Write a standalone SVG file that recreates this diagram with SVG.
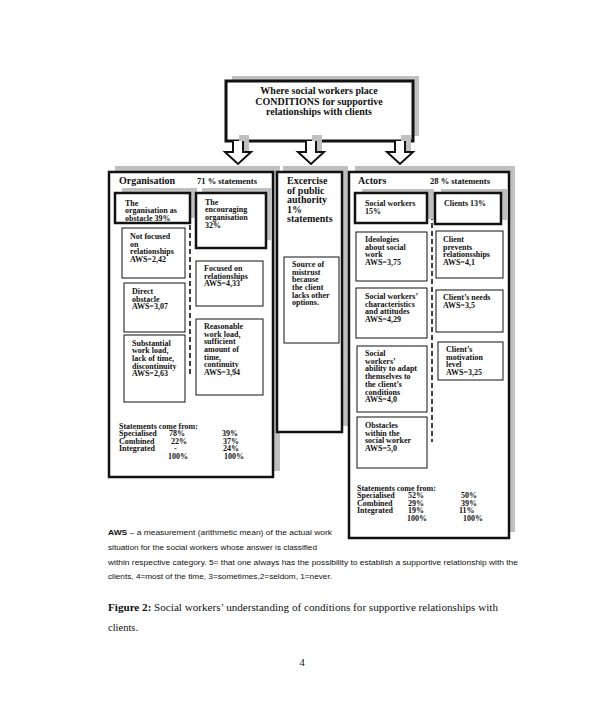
<svg xmlns="http://www.w3.org/2000/svg" width="603" height="707" viewBox="0 0 603 707">
<style>
text{font-family:"Liberation Serif","Times New Roman",serif;font-weight:bold;fill:#111}
.s{font-size:8px}
.h{font-size:10px}
.m{font-size:8.5px}
.t{font-size:10px}
.shadow{fill:#c0c0c0;stroke:none}
.panel{fill:#fff;stroke:#111;stroke-width:2.5}
.thick{fill:#fff;stroke:#111;stroke-width:2.5}
.box{fill:#fff;stroke:#111;stroke-width:1}
.dash{stroke:#111;stroke-width:1.6;stroke-dasharray:5,3;fill:none}
.arrow{fill:#fff;stroke:#111;stroke-width:2}
.note{font-family:"Liberation Sans",Arial,sans-serif;font-weight:normal;font-size:7.5px}
.cap{font-size:10.5px;font-weight:normal}
</style>
<rect width="603" height="707" fill="#fff"/>

<g id="top">
<rect class="shadow" x="232" y="76" width="187" height="60"/>
<rect class="thick" x="226" y="81" width="187" height="60" style="stroke-width:3"/>
<text class="t" x="319" y="94" text-anchor="middle">Where social workers place</text>
<text class="t" x="319" y="105" text-anchor="middle">CONDITIONS for supportive</text>
<text class="t" x="319" y="115" text-anchor="middle">relationships with clients</text>
</g>

<g id="organisation">
<rect class="shadow" x="115" y="166" width="165" height="305"/>
<rect class="panel" x="109" y="172" width="164" height="305"/>
<text class="h" x="119" y="184">Organisation</text>
<text class="m" x="197" y="184">71 % statements</text>
<line class="dash" x1="190" y1="225" x2="190" y2="377"/>
<g id="org-obstacle">
<rect class="shadow" x="122" y="188" width="75" height="30"/>
<rect class="thick" x="115" y="193" width="75" height="30"/>
<text class="s" x="125" y="205.5">The</text>
<text class="s" x="125" y="213">organisation as</text>
<text class="s" x="125" y="220.5">obstacle 39%</text>
</g>
<g id="org-encouraging">
<rect class="shadow" x="202" y="188" width="70" height="52"/>
<rect class="thick" x="196" y="193" width="70" height="55"/>
<text class="s" x="205" y="204.5">The</text>
<text class="s" x="205" y="212.2">encouraging</text>
<text class="s" x="205" y="219.9">organisation</text>
<text class="s" x="205" y="227.6">32%</text>
</g>
<g id="not-focused">
<rect class="box" x="122" y="228" width="63" height="50"/>
<text class="s" x="130" y="239">Not focused</text>
<text class="s" x="130" y="246.7">on</text>
<text class="s" x="130" y="254.4">relationships</text>
<text class="s" x="130" y="262.1">AWS=2,42</text>
</g>
<g id="direct-obstacle">
<rect class="box" x="124" y="283" width="61" height="49"/>
<text class="s" x="132" y="294">Direct</text>
<text class="s" x="132" y="301.5">obstacle</text>
<text class="s" x="132" y="309">AWS=3,07</text>
</g>
<g id="substantial">
<rect class="box" x="124" y="335" width="61" height="67"/>
<text class="s" x="132" y="345.5">Substantial</text>
<text class="s" x="132" y="353.2">work load,</text>
<text class="s" x="132" y="360.9">lack of time,</text>
<text class="s" x="132" y="368.6">discontinuity</text>
<text class="s" x="132" y="376.3">AWS=2,63</text>
</g>
<g id="focused">
<rect class="box" x="196" y="261" width="67" height="45"/>
<text class="s" x="204" y="271">Focused on</text>
<text class="s" x="204" y="278.7">relationships</text>
<text class="s" x="204" y="286.4">AWS=4,33</text>
</g>
<g id="reasonable">
<rect class="box" x="196" y="319" width="67" height="76"/>
<text class="s" x="204" y="328.8">Reasonable</text>
<text class="s" x="204" y="336.5">work load,</text>
<text class="s" x="204" y="344.2">sufficient</text>
<text class="s" x="204" y="351.9">amount of</text>
<text class="s" x="204" y="359.6">time,</text>
<text class="s" x="204" y="367.3">continuity</text>
<text class="s" x="204" y="375">AWS=3,94</text>
</g>
<g id="org-statements">
<text class="s" x="119" y="428.5">Statements come from:</text>
<text class="s" x="119" y="436">Specialised</text><text class="s" x="169" y="436">78%</text><text class="s" x="222" y="436">39%</text>
<text class="s" x="119" y="443.5">Combined</text><text class="s" x="171" y="443.5">22%</text><text class="s" x="223" y="443.5">37%</text>
<text class="s" x="119" y="451">Integrated</text><text class="s" x="174" y="451">-</text><text class="s" x="223" y="451">24%</text>
<text class="s" x="168" y="458.5">100%</text><text class="s" x="224" y="458.5">100%</text>
</g>
</g>

<g id="authority">
<rect class="shadow" x="283" y="166" width="65" height="260"/>
<rect class="panel" x="277" y="172" width="65" height="260"/>
<text class="h" x="287" y="184">Excercise</text>
<text class="h" x="287" y="193.5">of public</text>
<text class="h" x="287" y="203">authority</text>
<text class="h" x="287" y="212.5">1%</text>
<text class="h" x="287" y="222">statements</text>
<g id="mistrust">
<rect class="box" x="284" y="257" width="55" height="86"/>
<text class="s" x="292" y="266.8">Source of</text>
<text class="s" x="292" y="274.5">mistrust</text>
<text class="s" x="292" y="282.2">because</text>
<text class="s" x="292" y="289.9">the client</text>
<text class="s" x="292" y="297.6">lacks other</text>
<text class="s" x="292" y="305.3">options.</text>
</g>
</g>

<g id="actors">
<rect class="shadow" x="355" y="166" width="160" height="366"/>
<rect class="panel" x="349" y="172" width="160" height="366"/>
<text class="h" x="358" y="184">Actors</text>
<text class="m" x="430" y="184">28 % statements</text>
<line class="dash" x1="432" y1="215" x2="432" y2="442"/>
<g id="social-workers">
<rect class="shadow" x="362" y="189" width="72" height="30"/>
<rect class="thick" x="355" y="193" width="72" height="30"/>
<text class="s" x="365" y="205.5">Social workers</text>
<text class="s" x="365" y="213.5">15%</text>
</g>
<g id="clients">
<rect class="shadow" x="441" y="189" width="66" height="31"/>
<rect class="thick" x="435" y="193" width="66" height="31"/>
<text class="s" x="444" y="205.5">Clients  13%</text>
</g>
<g id="ideologies">
<rect class="box" x="356" y="232" width="71" height="49"/>
<text class="s" x="365" y="242">Ideologies</text>
<text class="s" x="365" y="249.7">about social</text>
<text class="s" x="365" y="257.4">work</text>
<text class="s" x="365" y="265.1">AWS=3,75</text>
</g>
<g id="characteristics">
<rect class="box" x="356" y="288" width="71" height="50"/>
<text class="s" x="365" y="298.8">Social workers’</text>
<text class="s" x="365" y="306.5">characteristics</text>
<text class="s" x="365" y="314.2">and attitudes</text>
<text class="s" x="365" y="321.9">AWS=4,29</text>
</g>
<g id="ability">
<rect class="box" x="357" y="346" width="70" height="66"/>
<text class="s" x="365" y="356">Social</text>
<text class="s" x="365" y="363.7">workers’</text>
<text class="s" x="365" y="371.4">ability to adapt</text>
<text class="s" x="365" y="379.1">themselves to</text>
<text class="s" x="365" y="386.8">the client’s</text>
<text class="s" x="365" y="394.5">conditions</text>
<text class="s" x="365" y="402.2">AWS=4,0</text>
</g>
<g id="obstacles">
<rect class="box" x="357" y="417" width="70" height="51"/>
<text class="s" x="365" y="427.8">Obstacles</text>
<text class="s" x="365" y="435.5">within the</text>
<text class="s" x="365" y="443.2">social worker</text>
<text class="s" x="365" y="450.9">AWS=5,0</text>
</g>
<g id="prevents">
<rect class="box" x="436" y="231" width="67" height="47"/>
<text class="s" x="443" y="242">Client</text>
<text class="s" x="443" y="249.7">prevents</text>
<text class="s" x="443" y="257.4">relationsships</text>
<text class="s" x="443" y="265.1">AWS=4,1</text>
</g>
<g id="needs">
<rect class="box" x="436" y="290" width="67" height="42"/>
<text class="s" x="443" y="300">Client’s needs</text>
<text class="s" x="443" y="307.7">AWS=3,5</text>
</g>
<g id="motivation">
<rect class="box" x="438" y="342" width="65" height="38"/>
<text class="s" x="446" y="352">Client’s</text>
<text class="s" x="446" y="359.7">motivation</text>
<text class="s" x="446" y="367.4">level</text>
<text class="s" x="446" y="375.1">AWS=3,25</text>
</g>
<g id="actors-statements">
<text class="s" x="357" y="490.7">Statements come from:</text>
<text class="s" x="357" y="498.2">Specialised</text><text class="s" x="408" y="498.2">52%</text><text class="s" x="461" y="498.2">50%</text>
<text class="s" x="357" y="505.7">Combined</text><text class="s" x="408" y="505.7">29%</text><text class="s" x="461" y="505.7">39%</text>
<text class="s" x="357" y="513.2">Integrated</text><text class="s" x="408" y="513.2">19%</text><text class="s" x="459" y="513.2">11%</text>
<text class="s" x="407" y="520.7">100%</text><text class="s" x="463" y="520.7">100%</text>
</g>
</g>

<g id="connectors">
<rect class="shadow" x="239" y="135" width="10" height="20"/>
<rect class="shadow" x="312" y="135" width="10" height="20"/>
<rect class="shadow" x="401" y="135" width="10" height="20"/>
<path class="arrow" d="M233,141 V152 H225 L238,164 L251,152 H243 V141"/>
<path class="arrow" d="M306,141 V152 H298 L311,164 L324,152 H316 V141"/>
<path class="arrow" d="M395,141 V152 H387 L400,164 L413,152 H405 V141"/>
</g>

<g id="notes">
<text class="note" x="108" y="535" textLength="224" lengthAdjust="spacingAndGlyphs"><tspan font-weight="bold">AWS</tspan> – a measurement (arithmetic mean) of the actual work</text>
<text class="note" x="108" y="549.5" textLength="209" lengthAdjust="spacingAndGlyphs">situation for the social workers whose answer is classified</text>
<text class="note" x="108" y="564.5" textLength="410" lengthAdjust="spacingAndGlyphs">within respective category. 5= that one always has the possibility to establish a supportive relationship with the</text>
<text class="note" x="108" y="579" textLength="224" lengthAdjust="spacingAndGlyphs">clients, 4=most of the time, 3=sometimes,2=seldom, 1=never.</text>
<text class="cap" x="108" y="611" textLength="390" lengthAdjust="spacingAndGlyphs"><tspan font-weight="bold">Figure 2:</tspan> Social workers’ understanding of conditions for supportive relationships with</text>
<text class="cap" x="108" y="631">clients.</text>
<text class="cap" x="302" y="666" text-anchor="middle">4</text>
</g>
</svg>
